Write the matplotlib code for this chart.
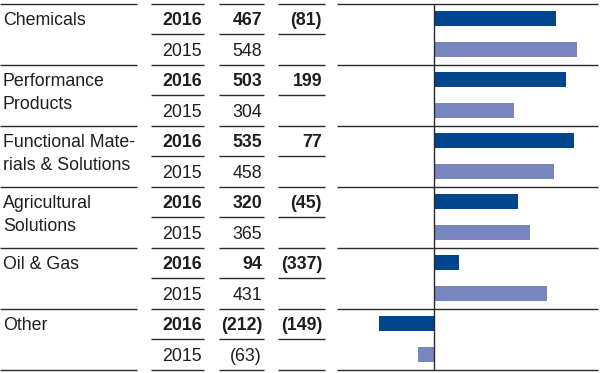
import matplotlib
matplotlib.use("Agg")
import matplotlib.pyplot as plt

categories = ["Chemicals", "Performance\nProducts", "Functional Mate-\nrials & Solutions",
              "Agricultural\nSolutions", "Oil & Gas", "Other"]
years = ["2016", "2015"]
values_2016 = [467, 503, 535, 320, 94, -212]
values_2015 = [548, 304, 458, 365, 431, -63]
change = [-81, 199, 77, -45, -337, -149]

DARK = "#00468F"
LIGHT = "#7886C0"
LINE = "#2a2a2a"
TXT = "#1e1e1e"
FONT = "Liberation Sans"
FS = 12.8


def fmt(v):
    return f"({abs(v)})" if v < 0 else f"{v}"


W, H = 600, 373
fig = plt.figure(figsize=(W / 100, H / 100), dpi=100)

# table axes in pixel coordinates
ax = fig.add_axes([0, 0, 1, 1])
ax.set_xlim(0, W)
ax.set_ylim(H, 0)
ax.axis("off")

top = 3.5
cat_h = 61.0
sub_h = cat_h / 2
lw = 1.0

col_label = (0, 137)
col_year = (151, 204)
col_val = (219, 264)
col_chg = (278, 325)
col_chart = (337, 598)

n = len(categories)
for k in range(n + 1):
    y = top + k * cat_h
    for c0, c1 in (col_label, col_year, col_val, col_chg, col_chart):
        ax.plot([c0, c1], [y, y], color=LINE, lw=lw, solid_capstyle="butt")
for k in range(n):
    y = top + k * cat_h + sub_h
    for c0, c1 in (col_year, col_val, col_chg):
        ax.plot([c0, c1], [y, y], color=LINE, lw=lw, solid_capstyle="butt")

cap_off = 6.4
for i, cat in enumerate(categories):
    y1 = top + i * cat_h + sub_h / 2
    y2 = y1 + sub_h
    for j, line in enumerate(cat.split("\n")):
        ax.text(3, y1 + cap_off + j * 22.5, line, ha="left", va="baseline",
                fontsize=FS, family=FONT, color=TXT)
    ax.text(202, y1 + cap_off, years[0], ha="right", va="baseline",
            fontsize=FS, family=FONT, weight="bold", color=TXT)
    ax.text(202, y2 + cap_off, years[1], ha="right", va="baseline",
            fontsize=FS, family=FONT, color=TXT)
    ax.text(262, y1 + cap_off, fmt(values_2016[i]), ha="right", va="baseline",
            fontsize=FS, family=FONT, weight="bold", color=TXT)
    ax.text(262, y2 + cap_off, fmt(values_2015[i]), ha="right", va="baseline",
            fontsize=FS, family=FONT, color=TXT)
    ax.text(322, y1 + cap_off, fmt(change[i]), ha="right", va="baseline",
            fontsize=FS, family=FONT, weight="bold", color=TXT)

# bar axes
bx0, bx1 = col_chart
by_top, by_bot = top, top + n * cat_h
axb = fig.add_axes([bx0 / W, (H - by_bot) / H, (W - bx0) / W, (by_bot - by_top) / H])
axb.patch.set_alpha(0)
zero_px = 434.3
scale = 0.261
axb.set_xlim((bx0 - zero_px) / scale, (W - zero_px) / scale)
axb.set_ylim(2 * n - 0.5, -0.5)
axb.axis("off")
pos16 = [2 * i for i in range(n)]
pos15 = [2 * i + 1 for i in range(n)]
bh = 15 / sub_h
axb.barh(pos16, values_2016, height=bh, color=DARK, zorder=2)
axb.barh(pos15, values_2015, height=bh, color=LIGHT, zorder=2)
axb.axvline(0, color=LINE, lw=lw, zorder=3)

fig.savefig("out.png", dpi=100)
